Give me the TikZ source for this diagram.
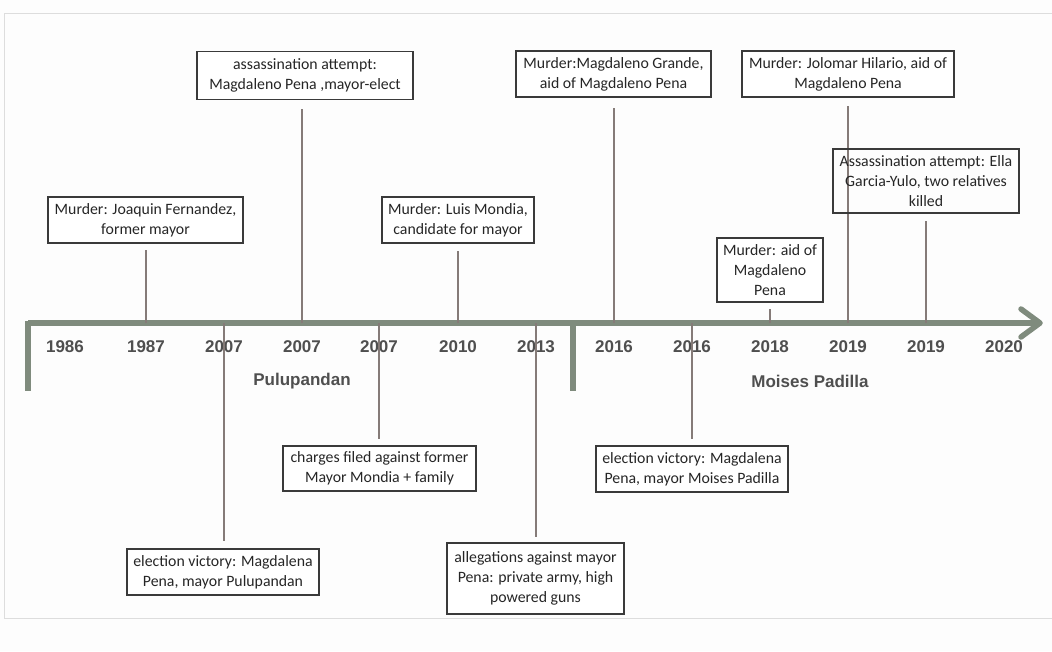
\documentclass[tikz,border=0pt]{standalone}
\usepackage{fontspec}
\setmainfont{Carlito}
\newfontfamily\yearfont{Liberation Sans}
\definecolor{axisc}{HTML}{7F8B7D}
\definecolor{connc}{HTML}{857B78}
\definecolor{boxc}{HTML}{3A3A3A}
\definecolor{yearc}{HTML}{4F4F4F}
\definecolor{framec}{HTML}{DDDDDD}
\definecolor{bgc}{HTML}{FDFDFD}
\tikzset{
  evbox/.style={draw=boxc, line width=1.3pt, fill=white, align=center, inner sep=2pt,
    font=\fontsize{15.8}{20}\selectfont, text=black!85},
  conn/.style={draw=connc, line width=1.2pt},
  axisline/.style={draw=axisc, line width=5.5pt},
  yearlbl/.style={font=\yearfont\bfseries\fontsize{17}{20}\selectfont, text=yearc, inner sep=0pt},
  regionlbl/.style={font=\yearfont\bfseries\fontsize{17}{20}\selectfont, text=yearc, inner sep=0pt}
}
\begin{document}
\begin{tikzpicture}[x=1pt,y=-1pt]
\useasboundingbox (0,0) rectangle (1052,651);
\fill[bgc] (0,0) rectangle (1052,651);
\draw[framec, line width=1pt] (1052,13) -- (4,13) -- (4,618) -- (1052,618);

% axis
\coordinate (a0) at (28,323);
\coordinate (aend) at (1040,323);
\draw[axisline] (a0) -- (aend);
\draw[axisline, line join=round, line cap=round] (1021,309) -- (aend) -- (1021,337);
\draw[axisline] (28,320.5) -- (28,391);
\draw[axisline] (573,323) -- (573,391);

% years
\foreach \n/\x/\yr in {1/65/1986,2/146/1987,3/224/2007,4/302/2007,5/379/2007,6/458/2010,7/536/2013,8/614/2016,9/692/2016,10/770/2018,11/848/2019,12/926/2019,13/1004/2020}{
  \node[yearlbl] (y\n) at (\x,347) {\yr};
  \coordinate (t\n) at (\x,323);
}
\node[regionlbl] (pul) at (302,381) {Pulupandan};
\node[regionlbl] (mp) at (810,381) {Moises Padilla};

% boxes
\node[evbox, minimum width=195pt, minimum height=46pt] (b1) at (145.5,220) {Murder: Joaquin Fernandez,\\former mayor};
\node[evbox, minimum width=216pt, minimum height=48pt] (b2) at (305,75.5) {assassination attempt:\\Magdaleno Pena ,mayor-elect};
\node[evbox, minimum width=152pt, minimum height=46pt] (b3) at (458,220) {Murder: Luis Mondia,\\candidate for mayor};
\node[evbox, minimum width=193pt, minimum height=45pt] (b4) at (379.5,468.5) {charges filed against former\\Mayor Mondia + family};
\node[evbox, minimum width=192pt, minimum height=46pt] (b5) at (223,572) {election victory: Magdalena\\Pena, mayor Pulupandan};
\node[evbox, minimum width=177pt, minimum height=71pt] (b6) at (535.5,578.5) {allegations against mayor\\Pena: private army, high\\powered guns};
\node[evbox, minimum width=195pt, minimum height=46pt] (b7) at (613.5,74) {Murder:Magdaleno Grande,\\aid of Magdaleno Pena};
\node[evbox, minimum width=212pt, minimum height=46pt] (b8) at (848,74) {Murder: Jolomar Hilario, aid of\\Magdaleno Pena};
\node[evbox, minimum width=106pt, minimum height=64pt] (b10) at (770,270) {Murder: aid of\\Magdaleno\\Pena};
\node[evbox, minimum width=192pt, minimum height=46pt] (b11) at (692,469) {election victory: Magdalena\\Pena, mayor Moises Padilla};

% connectors (the 2019 line crosses box 9, so draw it before box 9)
\draw[conn, shorten >=8pt] (t11) -- (t11 |- b8.south);
\node[evbox, fill=none, minimum width=186pt, minimum height=64pt] (b9) at (926,181) {Assassination attempt: Ella\\Garcia-Yulo, two relatives\\killed};
\draw[conn, shorten >=6pt] (t2) -- (t2 |- b1.south);
\draw[conn, shorten >=9pt] (t4) -- (t4 |- b2.south);
\draw[conn, shorten >=7pt] (t6) -- (t6 |- b3.south);
\draw[conn, shorten >=6pt] (t5) -- (t5 |- b4.north);
\draw[conn, shorten >=7pt] (t3) -- (t3 |- b5.north);
\draw[conn, shorten >=5pt] (t7) -- (t7 |- b6.north);
\draw[conn, shorten >=10pt] (t8) -- (t8 |- b7.south);
\draw[conn, shorten >=7pt] (t12) -- (t12 |- b9.south);
\draw[conn, shorten >=6pt] (t10) -- (t10 |- b10.south);
\draw[conn, shorten >=6pt] (t9) -- (t9 |- b11.north);
\end{tikzpicture}
\end{document}
